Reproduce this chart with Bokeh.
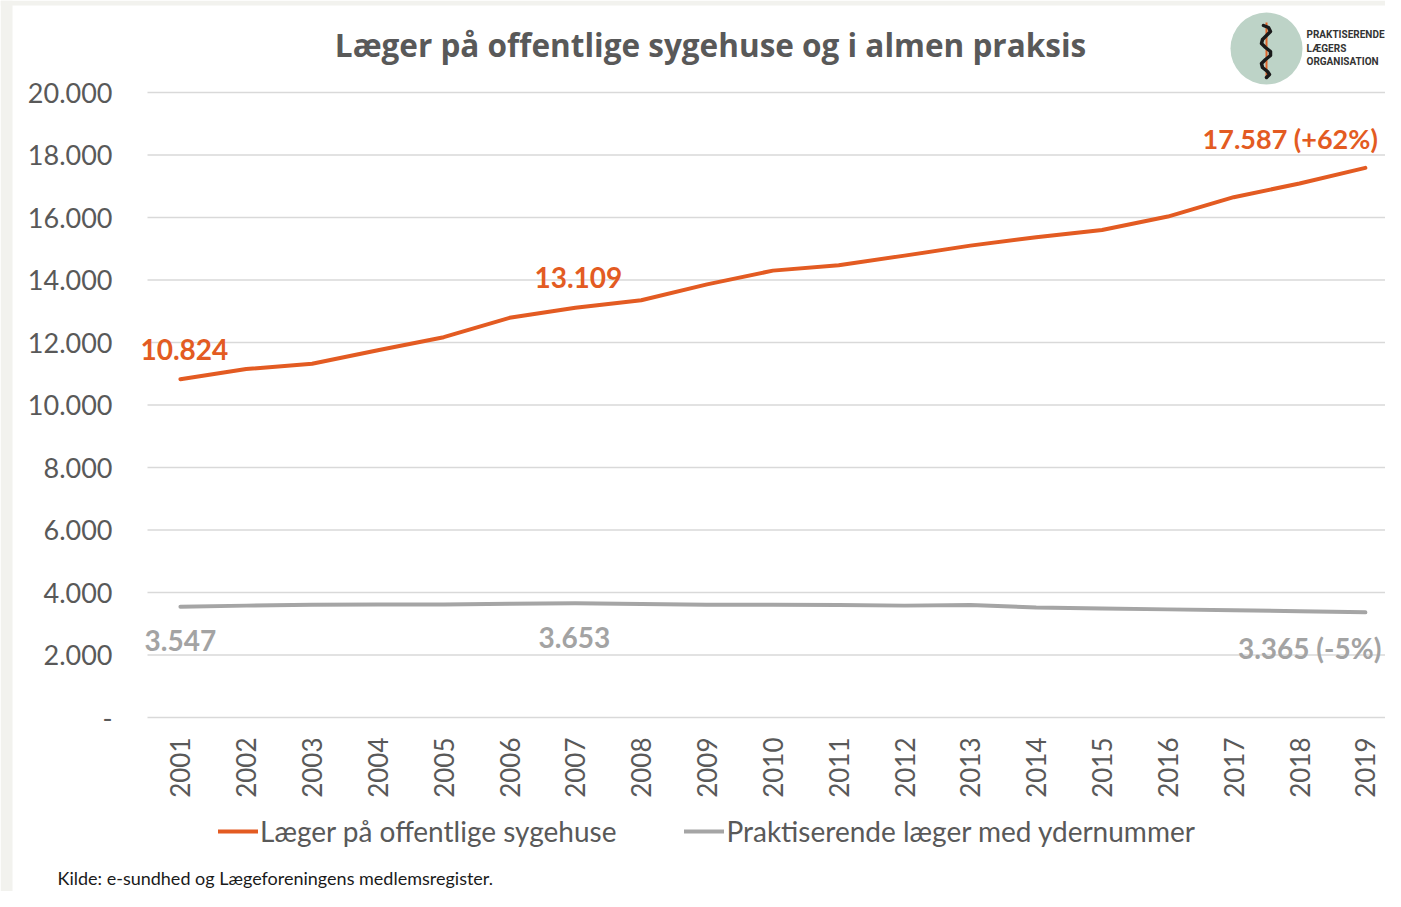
import math
from bokeh.plotting import figure
from bokeh.models import Range1d, FixedTicker, Label, Legend, LegendItem, BoxAnnotation
from bokeh.embed import file_html
from bokeh.resources import INLINE

# ---------------- data ----------------
years = list(range(2001, 2020))
hospital = [10824, 11150, 11320, 11750, 12170, 12790, 13109, 13350, 13860, 14300,
            14470, 14780, 15100, 15370, 15600, 16030, 16650, 17090, 17587]
practice = [3547, 3580, 3610, 3620, 3620, 3640, 3653, 3630, 3610, 3610,
            3600, 3580, 3600, 3520, 3490, 3460, 3430, 3400, 3365]
y_ticks = [0, 2000, 4000, 6000, 8000, 10000, 12000, 14000, 16000, 18000, 20000]
y_tick_labels = ["-", "2.000", "4.000", "6.000", "8.000", "10.000", "12.000",
                 "14.000", "16.000", "18.000", "20.000"]
series_names = ["Læger på offentlige sygehuse", "Praktiserende læger med ydernummer"]
chart_title = "Læger på offentlige sygehuse og i almen praksis"
source_note = "Kilde: e-sundhed og Lægeforeningens medlemsregister."
logo_lines = ["PRAKTISERENDE", "LÆGERS", "ORGANISATION"]
hosp_notes = {0: "10.824", 6: "13.109", 18: "17.587  (+62%)"}
prac_notes = {0: "3.547", 6: "3.653", 18: "3.365 (-5%)"}

ORANGE = "#E35B22"
GRAY = "#A5A5A5"
GRAYTXT = "#A3A3A3"
TXT = "#595959"
FONT = "Lato"

# ---------------- geometry (whole canvas is the frame) ----------------
W, H = 1385, 891
PX_PER_YEAR = 65.83
X0 = 2000.5                   # data x at pixel 147 (left end of the gridlines)
UNITS_PER_PX = 32.0           # 2000 per 62.5 px

def X(px):   # pixel -> data x
    return X0 + (px - 147) / PX_PER_YEAR

def Y(py):   # pixel -> data y (value 0 at pixel row 717)
    return (717 - py) * UNITS_PER_PX

p = figure(width=W, height=H, x_range=Range1d(X(0), X(W)), y_range=Range1d(Y(H), Y(0)),
           min_border=0, min_border_left=0, min_border_right=0, min_border_top=0,
           min_border_bottom=0, output_backend="svg", toolbar_location=None,
           outline_line_color=None, background_fill_color="white",
           border_fill_color="white")

# page-like grey edge of the original picture
p.add_layout(BoxAnnotation(left=X(0), right=X(12), fill_color="#F2F2EE", fill_alpha=1,
                           line_color=None, level="underlay"))
p.add_layout(BoxAnnotation(bottom=Y(5), fill_color="#F2F2EE", fill_alpha=1,
                           line_color=None, level="underlay"))

# horizontal gridlines spanning only the plotting area
p.xgrid.visible = False
p.ygrid.visible = False
p.segment(x0=[X(147)] * len(y_ticks), x1=[X(1397)] * len(y_ticks), y0=y_ticks, y1=y_ticks,
          line_color="#D9D9D9", line_width=1.5, level="underlay")

# y axis
p.yaxis.fixed_location = X0
p.yaxis.ticker = FixedTicker(ticks=y_ticks)
p.yaxis.major_label_overrides = {t: l for t, l in zip(y_ticks, y_tick_labels)}
p.yaxis.axis_line_color = None
p.yaxis.major_tick_line_color = None
p.yaxis.minor_tick_line_color = None
p.yaxis.major_tick_out = 0
p.yaxis.major_label_standoff = 35
p.yaxis.major_label_text_font = FONT
p.yaxis.major_label_text_font_size = "27px"
p.yaxis.major_label_text_color = TXT

# x axis
p.xaxis.fixed_location = 0
p.xaxis.ticker = FixedTicker(ticks=years)
p.xaxis.major_label_overrides = {y: str(y) for y in years}
p.xaxis.major_label_orientation = math.pi / 2
p.xaxis.axis_line_color = None
p.xaxis.major_tick_line_color = None
p.xaxis.minor_tick_line_color = None
p.xaxis.major_tick_out = 0
p.xaxis.major_label_standoff = 20
p.xaxis.major_label_text_font = FONT
p.xaxis.major_label_text_font_size = "26px"
p.xaxis.major_label_text_color = TXT

# lines
r1 = p.line(years, hospital, line_color=ORANGE, line_width=4, line_cap="round", line_join="round")
r2 = p.line(years, practice, line_color=GRAY, line_width=4, line_cap="round", line_join="round")

# data annotations
def note(i, values, text, dx, dy, color, align="center", size="28px"):
    p.add_layout(Label(x=years[i] + dx / PX_PER_YEAR, y=values[i] + dy * UNITS_PER_PX,
                       text=text, text_align=align, text_baseline="middle",
                       text_font=FONT, text_font_style="bold", text_font_size=size,
                       text_color=color))

note(0, hospital, hosp_notes[0], 4, 30, ORANGE)
note(6, hospital, hosp_notes[6], 3, 30, ORANGE)
note(18, hospital, hosp_notes[18], 19, 29, ORANGE, "right", "27px")
note(0, practice, prac_notes[0], 0, -34, GRAYTXT)
note(6, practice, prac_notes[6], -1, -34, GRAYTXT)
note(18, practice, prac_notes[18], 16, -36, GRAYTXT, "right")

# title
p.add_layout(Label(x=X(710), y=Y(44), text=chart_title, text_align="center",
                   text_baseline="middle", text_font="Open Sans", text_font_style="bold",
                   text_font_size="31.5px", text_color=TXT))

# logo (decoration)
p.scatter([X(1266)], [Y(48)], size=72, fill_color="#BDD3C7", line_color=None)
p.line([X(1266), X(1266)], [Y(22), Y(78)], line_color="#E0642A", line_width=2)
snake_px = [(1263, 25), (1268, 27), (1270, 31), (1266, 35), (1262, 39), (1261, 43),
            (1265, 47), (1270, 51), (1270, 55), (1265, 59), (1261, 63), (1262, 67),
            (1267, 71), (1269, 74), (1266, 77)]
p.line([X(a) for a, b in snake_px], [Y(b) for a, b in snake_px],
       line_color="#1a1a1a", line_width=3.5, line_join="round", line_cap="round")
for k, t in enumerate(logo_lines):
    p.add_layout(Label(x=X(1306), y=Y(34 + 13.5 * k), text=t, text_align="left",
                       text_baseline="middle", text_font="Roboto",
                       text_font_style="bold", text_font_size="10px", text_color="#333333"))

# source note
p.add_layout(Label(x=X(57), y=Y(877), text=source_note, text_align="left",
                   text_baseline="middle", text_font=FONT, text_font_size="18px",
                   text_color="#1a1a1a"))

# legend
legend = Legend(items=[LegendItem(label=series_names[0], renderers=[r1]),
                       LegendItem(label=series_names[1], renderers=[r2])],
                location=(218, H - 848), orientation="horizontal",
                glyph_width=40, glyph_height=30, label_height=30, label_standoff=2,
                spacing=68, padding=0, margin=0, border_line_color=None,
                background_fill_alpha=0, label_text_font=FONT,
                label_text_font_size="28px", label_text_color=TXT)
p.add_layout(legend)

open("out.html", "w").write(file_html(p, INLINE))
